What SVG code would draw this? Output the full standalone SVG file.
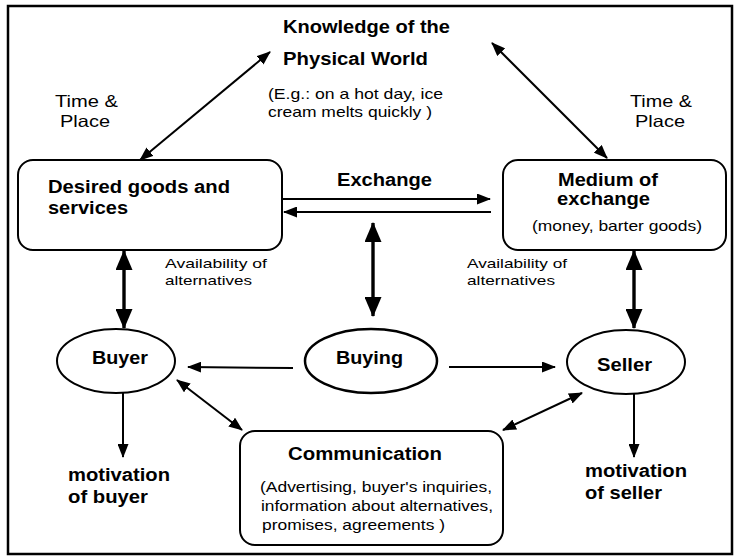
<svg xmlns="http://www.w3.org/2000/svg" width="738" height="557" viewBox="0 0 738 557">
<style>
text{font-family:"Liberation Sans",Arial,sans-serif;fill:#000}
.b{font-weight:bold;font-size:18px}
.r{font-size:14.5px}
.t{font-size:16.5px}
.a{font-size:13.5px}
.box{fill:#fff;stroke:#000;stroke-width:2}
.c line{stroke:#000;stroke-width:2}
.c line.k{stroke-width:3.4}
</style>
<defs>
<marker id="ah" viewBox="0 0 14 11" refX="13" refY="5.5" markerWidth="14" markerHeight="11" markerUnits="userSpaceOnUse" orient="auto-start-reverse">
<path d="M0,0 L14,5.5 L0,11 z" fill="#000"/>
</marker>
<marker id="big" viewBox="0 0 20 17" refX="19" refY="8.5" markerWidth="20" markerHeight="17" markerUnits="userSpaceOnUse" orient="auto-start-reverse">
<path d="M0,0 L20,8.5 L0,17 z" fill="#000"/>
</marker>
</defs>
<rect x="0" y="0" width="738" height="557" fill="#fff"/>
<rect x="8" y="6" width="724" height="548" fill="none" stroke="#000" stroke-width="2.5"/>

<g id="knowledge">
<text class="b" x="283" y="33" textLength="167" lengthAdjust="spacingAndGlyphs">Knowledge of the</text>
<text class="b" x="283" y="65" textLength="145" lengthAdjust="spacingAndGlyphs">Physical World</text>
<text class="r" x="268" y="99" textLength="175" lengthAdjust="spacingAndGlyphs">(E.g.: on a hot day, ice</text>
<text class="r" x="268" y="117" textLength="164" lengthAdjust="spacingAndGlyphs">cream melts quickly )</text>
</g>

<g id="timeplace-left">
<text class="t" x="55" y="107" textLength="63" lengthAdjust="spacingAndGlyphs">Time &amp;</text>
<text class="t" x="60" y="127" textLength="50" lengthAdjust="spacingAndGlyphs">Place</text>
</g>
<g id="timeplace-right">
<text class="t" x="630" y="107" textLength="62" lengthAdjust="spacingAndGlyphs">Time &amp;</text>
<text class="t" x="635" y="127" textLength="50" lengthAdjust="spacingAndGlyphs">Place</text>
</g>

<g id="desired">
<rect class="box" x="18" y="160" width="264" height="90" rx="15"/>
<text class="b" x="48" y="193" textLength="182" lengthAdjust="spacingAndGlyphs">Desired goods and</text>
<text class="b" x="48" y="214" textLength="80" lengthAdjust="spacingAndGlyphs">services</text>
</g>

<g id="medium">
<rect class="box" x="503" y="160" width="223" height="90" rx="15"/>
<text class="b" x="558" y="186" textLength="100" lengthAdjust="spacingAndGlyphs">Medium of</text>
<text class="b" x="557" y="205" textLength="93" lengthAdjust="spacingAndGlyphs">exchange</text>
<text class="r" x="532" y="231" textLength="170" lengthAdjust="spacingAndGlyphs">(money, barter goods)</text>
</g>

<g id="exchange-label">
<text class="b" x="337" y="186" textLength="95" lengthAdjust="spacingAndGlyphs">Exchange</text>
</g>

<g id="avail-left">
<text class="a" x="165" y="268" textLength="102" lengthAdjust="spacingAndGlyphs">Availability of</text>
<text class="a" x="165" y="285" textLength="87" lengthAdjust="spacingAndGlyphs">alternatives</text>
</g>
<g id="avail-right">
<text class="a" x="467" y="268" textLength="100" lengthAdjust="spacingAndGlyphs">Availability of</text>
<text class="a" x="467" y="285" textLength="88" lengthAdjust="spacingAndGlyphs">alternatives</text>
</g>

<g id="buyer">
<ellipse cx="116" cy="361" rx="59" ry="32" fill="#fff" stroke="#000" stroke-width="2"/>
<text class="b" x="92" y="364" textLength="56" lengthAdjust="spacingAndGlyphs">Buyer</text>
</g>

<g id="buying">
<ellipse cx="371" cy="361" rx="66" ry="32" fill="#fff" stroke="#000" stroke-width="2.5"/>
<text class="b" x="336" y="364" textLength="67" lengthAdjust="spacingAndGlyphs">Buying</text>
</g>

<g id="seller">
<ellipse cx="626" cy="362" rx="59" ry="32" fill="#fff" stroke="#000" stroke-width="2"/>
<text class="b" x="597" y="371" textLength="55" lengthAdjust="spacingAndGlyphs">Seller</text>
</g>

<g id="motivation-buyer">
<text class="b" x="68" y="481" textLength="102" lengthAdjust="spacingAndGlyphs">motivation</text>
<text class="b" x="68" y="503" textLength="80" lengthAdjust="spacingAndGlyphs">of buyer</text>
</g>
<g id="motivation-seller">
<text class="b" x="585" y="477" textLength="102" lengthAdjust="spacingAndGlyphs">motivation</text>
<text class="b" x="585" y="499" textLength="77" lengthAdjust="spacingAndGlyphs">of seller</text>
</g>

<g id="communication">
<rect class="box" x="240" y="431" width="263" height="114" rx="15"/>
<text class="b" x="288" y="460" textLength="154" lengthAdjust="spacingAndGlyphs">Communication</text>
<text class="r" x="260" y="492" textLength="232" lengthAdjust="spacingAndGlyphs">(Advertising, buyer's inquiries,</text>
<text class="r" x="261" y="511" textLength="232" lengthAdjust="spacingAndGlyphs">information about alternatives,</text>
<text class="r" x="262" y="530" textLength="183" lengthAdjust="spacingAndGlyphs">promises, agreements )</text>
</g>

<g id="connectors" class="c">
<line x1="140" y1="160" x2="270" y2="52" marker-start="url(#ah)" marker-end="url(#ah)"/>
<line x1="492" y1="43" x2="607" y2="158" marker-start="url(#ah)" marker-end="url(#ah)"/>
<line x1="283" y1="199" x2="490" y2="199" marker-end="url(#ah)"/>
<line x1="491" y1="212" x2="284" y2="212" marker-end="url(#ah)"/>
<line class="k" x1="373" y1="223" x2="373" y2="316" marker-start="url(#big)" marker-end="url(#big)"/>
<line class="k" x1="124" y1="251" x2="124" y2="328" marker-start="url(#big)" marker-end="url(#big)"/>
<line class="k" x1="634" y1="251" x2="634" y2="328" marker-start="url(#big)" marker-end="url(#big)"/>
<line x1="293" y1="368" x2="188" y2="367" marker-end="url(#ah)"/>
<line x1="449" y1="367" x2="555" y2="367" marker-end="url(#ah)"/>
<line x1="123" y1="393" x2="123" y2="457" marker-end="url(#ah)"/>
<line x1="634" y1="394" x2="634" y2="457" marker-end="url(#ah)"/>
<line x1="177" y1="380" x2="242" y2="430" marker-start="url(#ah)" marker-end="url(#ah)"/>
<line x1="582" y1="393" x2="503" y2="430" marker-start="url(#ah)" marker-end="url(#ah)"/>
</g>
</svg>
